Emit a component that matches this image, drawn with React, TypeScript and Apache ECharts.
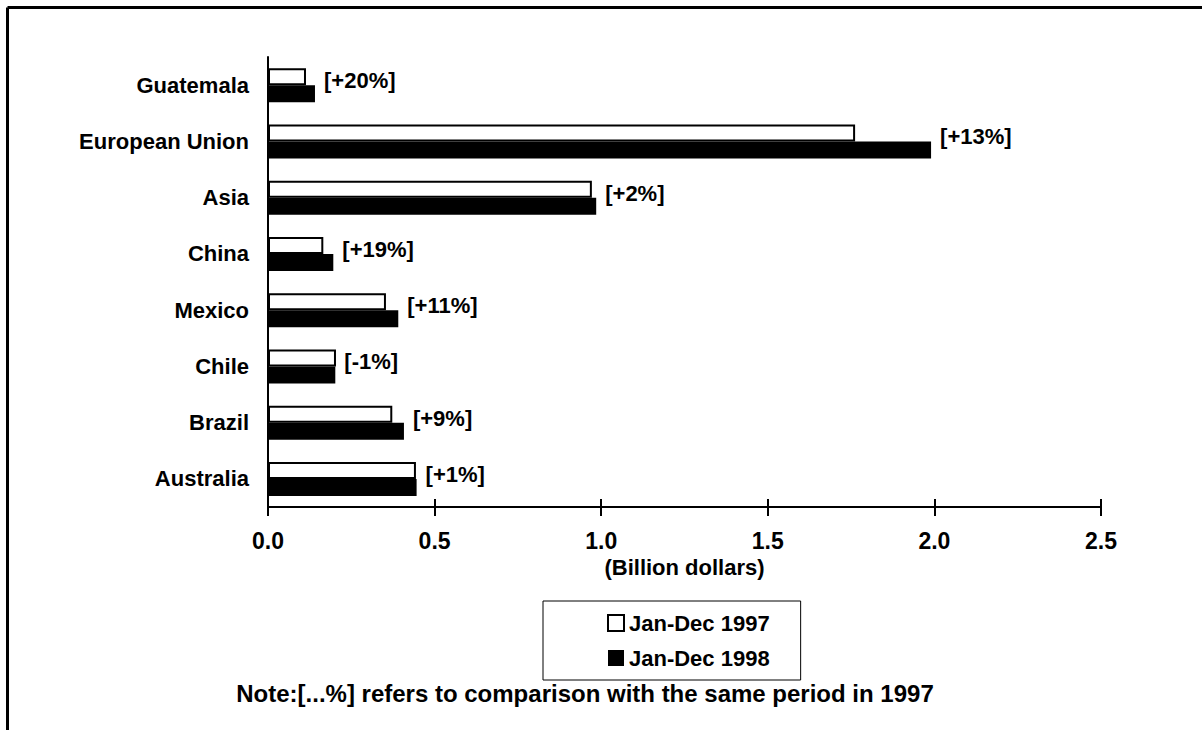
import React, { useEffect, useRef } from "react";
import * as echarts from "echarts";

const categories = [
  "Guatemala",
  "European Union",
  "Asia",
  "China",
  "Mexico",
  "Chile",
  "Brazil",
  "Australia",
];
const values1997 = [0.114, 1.762, 0.972, 0.166, 0.354, 0.204, 0.373, 0.444];
const values1998 = [0.141, 1.99, 0.985, 0.196, 0.391, 0.202, 0.408, 0.446];
const pctChange = ["+20%", "+13%", "+2%", "+19%", "+11%", "-1%", "+9%", "+1%"];
const xTicks = [0, 0.5, 1.0, 1.5, 2.0, 2.5];
const seriesNames = ["Jan-Dec 1997", "Jan-Dec 1998"];
const noteText = "Note:[...%] refers to comparison with the same period in 1997";
const axisTitle = "(Billion dollars)";

const FONT = "'Liberation Sans', Arial, Helvetica, sans-serif";

export default function App() {
  const ref = useRef<HTMLDivElement>(null);
  useEffect(() => {
    if (!ref.current) return;
    const chart = echarts.init(ref.current, null, { renderer: "svg" });
    const xMin = xTicks[0];
    const xMax = xTicks[xTicks.length - 1];
    const step = xTicks[1] - xTicks[0];
    chart.setOption({
      animation: false,
      backgroundColor: "#ffffff",
      textStyle: { fontFamily: FONT },
      grid: {
        left: 268,
        right: 101,
        top: 57,
        height: 450,
        containLabel: false,
        outerBoundsMode: "none",
      },
      legend: {
        orient: "vertical",
        left: 543,
        top: 601,
        padding: [10, 31, 10, 64],
        itemGap: 11,
        itemWidth: 16,
        itemHeight: 16,
        icon: "rect",
        borderColor: "#000",
        borderWidth: 1,
        textStyle: {
          fontFamily: FONT,
          fontWeight: "bold",
          fontSize: 22,
          color: "#000",
          lineHeight: 24,
        },
        data: [
          {
            name: seriesNames[0],
            itemStyle: { color: "#fff", borderColor: "#000", borderWidth: 2 },
          },
          { name: seriesNames[1], itemStyle: { color: "#000" } },
        ],
      },
      xAxis: [
        {
          type: "value",
          min: xMin,
          max: xMax,
          interval: step,
          position: "bottom",
          axisLine: { show: true, lineStyle: { color: "#000", width: 2 } },
          axisTick: { show: true, length: 9, lineStyle: { color: "#000", width: 2 } },
          splitLine: { show: false },
          axisLabel: {
            margin: 22,
            color: "#000",
            fontWeight: "bold",
            fontSize: 23,
            fontFamily: FONT,
            formatter: (v: number) => v.toFixed(1),
          },
          name: axisTitle,
          nameLocation: "middle",
          nameGap: 46,
          nameTextStyle: {
            color: "#000",
            fontWeight: "bold",
            fontSize: 22,
            fontFamily: FONT,
          },
        },
        {
          type: "value",
          min: xMin,
          max: xMax,
          interval: step,
          position: "bottom",
          axisLine: { show: false },
          axisTick: {
            show: true,
            inside: true,
            length: 8,
            lineStyle: { color: "#000", width: 2 },
          },
          splitLine: { show: false },
          axisLabel: { show: false },
        },
      ],
      yAxis: {
        type: "category",
        data: categories,
        inverse: true,
        axisLine: { show: true, lineStyle: { color: "#000", width: 2 } },
        axisTick: { show: false },
        axisLabel: {
          margin: 19,
          color: "#000",
          fontWeight: "bold",
          fontSize: 22,
          fontFamily: FONT,
        },
      },
      series: [
        {
          name: seriesNames[0],
          type: "bar",
          xAxisIndex: 0,
          data: values1997,
          barWidth: 17,
          barGap: "0%",
          itemStyle: { color: "#fff", borderColor: "#000", borderWidth: 2 },
        },
        {
          name: seriesNames[1],
          type: "bar",
          xAxisIndex: 0,
          data: values1998,
          barWidth: 17,
          barGap: "0%",
          itemStyle: { color: "#000" },
          label: {
            show: true,
            position: "right",
            distance: 9,
            offset: [0, -13],
            color: "#000",
            fontWeight: "bold",
            fontSize: 22,
            fontFamily: FONT,
            formatter: (p: any) => `[${pctChange[p.dataIndex]}]`,
          },
        },
      ],
      graphic: [
        {
          type: "line",
          shape: { x1: 7.5, y1: 7.5, x2: 1202, y2: 7.5 },
          style: { stroke: "#000", lineWidth: 3 },
        },
        {
          type: "line",
          shape: { x1: 7.5, y1: 7.5, x2: 7.5, y2: 730 },
          style: { stroke: "#000", lineWidth: 3 },
        },
        {
          type: "text",
          x: 585,
          y: 693,
          style: {
            text: noteText,
            fontFamily: FONT,
            fontWeight: "bold",
            fontSize: 24,
            fill: "#000",
            textAlign: "center",
            textVerticalAlign: "middle",
          },
        },
      ],
    });
    return () => chart.dispose();
  }, []);
  return (
    <div
      ref={ref}
      style={{ position: "fixed", left: 0, top: 0, width: 1202, height: 730 }}
    />
  );
}
